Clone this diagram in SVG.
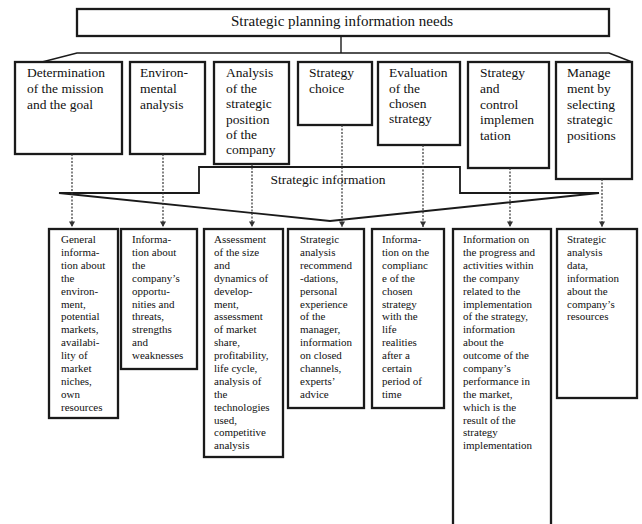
<svg xmlns="http://www.w3.org/2000/svg" width="642" height="524" viewBox="0 0 642 524">
<style>
.box{fill:#fff;stroke:#1a1a1a;stroke-width:2.3}
.ln{fill:none;stroke:#1a1a1a;stroke-width:1.4}
.shape{fill:none;stroke:#1a1a1a;stroke-width:1.8;stroke-linejoin:miter}
.dash{fill:none;stroke:#333;stroke-width:1.2;stroke-dasharray:2 1.5}
.t{font-family:"Liberation Serif","Times New Roman",serif;fill:#111}
.title{font-size:15px}
.md{font-size:13.5px}
.sm{font-size:11px}
</style>
<defs>
<marker id="arr" markerWidth="8" markerHeight="8" refX="4" refY="6" orient="auto-start-reverse" markerUnits="userSpaceOnUse" viewBox="0 0 8 8">
<path d="M1,1 L4,6 L7,1 Z" fill="#333" transform="rotate(-90 4 4)"/>
</marker>
<marker id="ah" markerWidth="8" markerHeight="8" refX="6" refY="4" orient="auto" markerUnits="userSpaceOnUse">
<path d="M0.5,1 L6,4 L0.5,7 Z" fill="#333"/>
</marker>
</defs>

<g id="top">
<rect class="box" x="77" y="9" width="532" height="27"/>
<text class="t title" x="342" y="26" text-anchor="middle">Strategic planning information needs</text>
</g>

<g id="bracket">
<path class="ln" d="M341,36 V53"/>
<path class="ln" d="M42,62 L77,53 H609 L632,62"/>
</g>

<g id="m1">
<rect class="box" x="15" y="62" width="107" height="92"/>
<text class="t md" x="27" y="77">Determination<tspan x="27" dy="16">of the mission</tspan><tspan x="27" dy="16">and the goal</tspan></text>
</g>
<g id="m2">
<rect class="box" x="130" y="62" width="75" height="92"/>
<text class="t md" x="140" y="77">Environ-<tspan x="140" dy="16">mental</tspan><tspan x="140" dy="16">analysis</tspan></text>
</g>
<g id="m3">
<rect class="box" x="214" y="62" width="75" height="102"/>
<text class="t md" x="226" y="77">Analysis<tspan x="226" dy="15.5">of the</tspan><tspan x="226" dy="15.5">strategic</tspan><tspan x="226" dy="15.5">position</tspan><tspan x="226" dy="15">of the</tspan><tspan x="226" dy="15">company</tspan></text>
</g>
<g id="m4">
<rect class="box" x="298" y="62" width="74" height="63"/>
<text class="t md" x="309" y="77">Strategy<tspan x="309" dy="16">choice</tspan></text>
</g>
<g id="m5">
<rect class="box" x="378" y="62" width="82" height="83"/>
<text class="t md" x="389" y="77">Evaluation<tspan x="389" dy="16">of the</tspan><tspan x="389" dy="15">chosen</tspan><tspan x="389" dy="15">strategy</tspan></text>
</g>
<g id="m6">
<rect class="box" x="468" y="62" width="81" height="106"/>
<text class="t md" x="480" y="77">Strategy<tspan x="480" dy="16">and</tspan><tspan x="480" dy="15.5">control</tspan><tspan x="480" dy="15.5">implemen</tspan><tspan x="480" dy="15.5">tation</tspan></text>
</g>
<g id="m7">
<rect class="box" x="556" y="62" width="76" height="117"/>
<text class="t md" x="567" y="77">Manage<tspan x="567" dy="16">ment by</tspan><tspan x="567" dy="15.5">selecting</tspan><tspan x="567" dy="15.5">strategic</tspan><tspan x="567" dy="15.5">positions</tspan></text>
</g>

<g id="strategic-info">
<path class="shape" d="M59,193 H199 V167 H460 V193 H599 L330,221 Z"/>
<text class="t md" x="328" y="184" text-anchor="middle">Strategic information</text>
</g>

<g id="connectors">
<path class="dash" d="M72,154 V227" marker-end="url(#ah)"/>
<path class="dash" d="M163,154 V227" marker-end="url(#ah)"/>
<path class="dash" d="M252,164 V227" marker-end="url(#ah)"/>
<path class="dash" d="M342,125 V227" marker-end="url(#ah)"/>
<path class="dash" d="M423,145 V227" marker-end="url(#ah)"/>
<path class="dash" d="M510,168 V227" marker-end="url(#ah)"/>
<path class="dash" d="M602,179 V227" marker-end="url(#ah)"/>
</g>

<g id="b1">
<rect class="box" x="49" y="229" width="69" height="189"/>
<text class="t sm" x="61" y="243">General<tspan x="61" dy="12.9">informa-</tspan><tspan x="61" dy="12.9">tion about</tspan><tspan x="61" dy="12.9">the</tspan><tspan x="61" dy="12.9">environ-</tspan><tspan x="61" dy="12.9">ment,</tspan><tspan x="61" dy="12.9">potential</tspan><tspan x="61" dy="12.9">markets,</tspan><tspan x="61" dy="12.9">availabi-</tspan><tspan x="61" dy="12.9">lity of</tspan><tspan x="61" dy="12.9">market</tspan><tspan x="61" dy="12.9">niches,</tspan><tspan x="61" dy="12.9">own</tspan><tspan x="61" dy="12.9">resources</tspan></text>
</g>
<g id="b2">
<rect class="box" x="121" y="229" width="76" height="140"/>
<text class="t sm" x="132" y="243">Informa-<tspan x="132" dy="12.9">tion about</tspan><tspan x="132" dy="12.9">the</tspan><tspan x="132" dy="12.9">company’s</tspan><tspan x="132" dy="12.9">opportu-</tspan><tspan x="132" dy="12.9">nities and</tspan><tspan x="132" dy="12.9">threats,</tspan><tspan x="132" dy="12.9">strengths</tspan><tspan x="132" dy="12.9">and</tspan><tspan x="132" dy="12.9">weaknesses</tspan></text>
</g>
<g id="b3">
<rect class="box" x="204" y="229" width="79" height="228"/>
<text class="t sm" x="214" y="243">Assessment<tspan x="214" dy="12.9">of the size</tspan><tspan x="214" dy="12.9">and</tspan><tspan x="214" dy="12.9">dynamics of</tspan><tspan x="214" dy="12.9">develop-</tspan><tspan x="214" dy="12.9">ment,</tspan><tspan x="214" dy="12.9">assessment</tspan><tspan x="214" dy="12.9">of market</tspan><tspan x="214" dy="12.9">share,</tspan><tspan x="214" dy="12.9">profitability,</tspan><tspan x="214" dy="12.9">life cycle,</tspan><tspan x="214" dy="12.9">analysis of</tspan><tspan x="214" dy="12.9">the</tspan><tspan x="214" dy="12.9">technologies</tspan><tspan x="214" dy="12.9">used,</tspan><tspan x="214" dy="12.9">competitive</tspan><tspan x="214" dy="12.9">analysis</tspan></text>
</g>
<g id="b4">
<rect class="box" x="288" y="229" width="76" height="179"/>
<text class="t sm" x="300" y="243">Strategic<tspan x="300" dy="12.9">analysis</tspan><tspan x="300" dy="12.9">recommend</tspan><tspan x="300" dy="12.9">-dations,</tspan><tspan x="300" dy="12.9">personal</tspan><tspan x="300" dy="12.9">experience</tspan><tspan x="300" dy="12.9">of the</tspan><tspan x="300" dy="12.9">manager,</tspan><tspan x="300" dy="12.9">information</tspan><tspan x="300" dy="12.9">on closed</tspan><tspan x="300" dy="12.9">channels,</tspan><tspan x="300" dy="12.9">experts’</tspan><tspan x="300" dy="12.9">advice</tspan></text>
</g>
<g id="b5">
<rect class="box" x="372" y="229" width="72" height="179"/>
<text class="t sm" x="382" y="243">Informa-<tspan x="382" dy="12.9">tion on the</tspan><tspan x="382" dy="12.9">complianc</tspan><tspan x="382" dy="12.9">e of the</tspan><tspan x="382" dy="12.9">chosen</tspan><tspan x="382" dy="12.9">strategy</tspan><tspan x="382" dy="12.9">with the</tspan><tspan x="382" dy="12.9">life</tspan><tspan x="382" dy="12.9">realities</tspan><tspan x="382" dy="12.9">after a</tspan><tspan x="382" dy="12.9">certain</tspan><tspan x="382" dy="12.9">period of</tspan><tspan x="382" dy="12.9">time</tspan></text>
</g>
<g id="b6">
<rect class="box" x="453" y="229" width="98" height="310"/>
<text class="t sm" x="463" y="243">Information on<tspan x="463" dy="12.9">the progress and</tspan><tspan x="463" dy="12.9">activities within</tspan><tspan x="463" dy="12.9">the company</tspan><tspan x="463" dy="12.9">related to the</tspan><tspan x="463" dy="12.9">implementation</tspan><tspan x="463" dy="12.9">of the strategy,</tspan><tspan x="463" dy="12.9">information</tspan><tspan x="463" dy="12.9">about the</tspan><tspan x="463" dy="12.9">outcome of the</tspan><tspan x="463" dy="12.9">company’s</tspan><tspan x="463" dy="12.9">performance in</tspan><tspan x="463" dy="12.9">the market,</tspan><tspan x="463" dy="12.9">which is the</tspan><tspan x="463" dy="12.9">result of the</tspan><tspan x="463" dy="12.9">strategy</tspan><tspan x="463" dy="12.9">implementation</tspan></text>
</g>
<g id="b7">
<rect class="box" x="557" y="229" width="80" height="169"/>
<text class="t sm" x="567" y="243">Strategic<tspan x="567" dy="12.9">analysis</tspan><tspan x="567" dy="12.9">data,</tspan><tspan x="567" dy="12.9">information</tspan><tspan x="567" dy="12.9">about the</tspan><tspan x="567" dy="12.9">company’s</tspan><tspan x="567" dy="12.9">resources</tspan></text>
</g>
</svg>
